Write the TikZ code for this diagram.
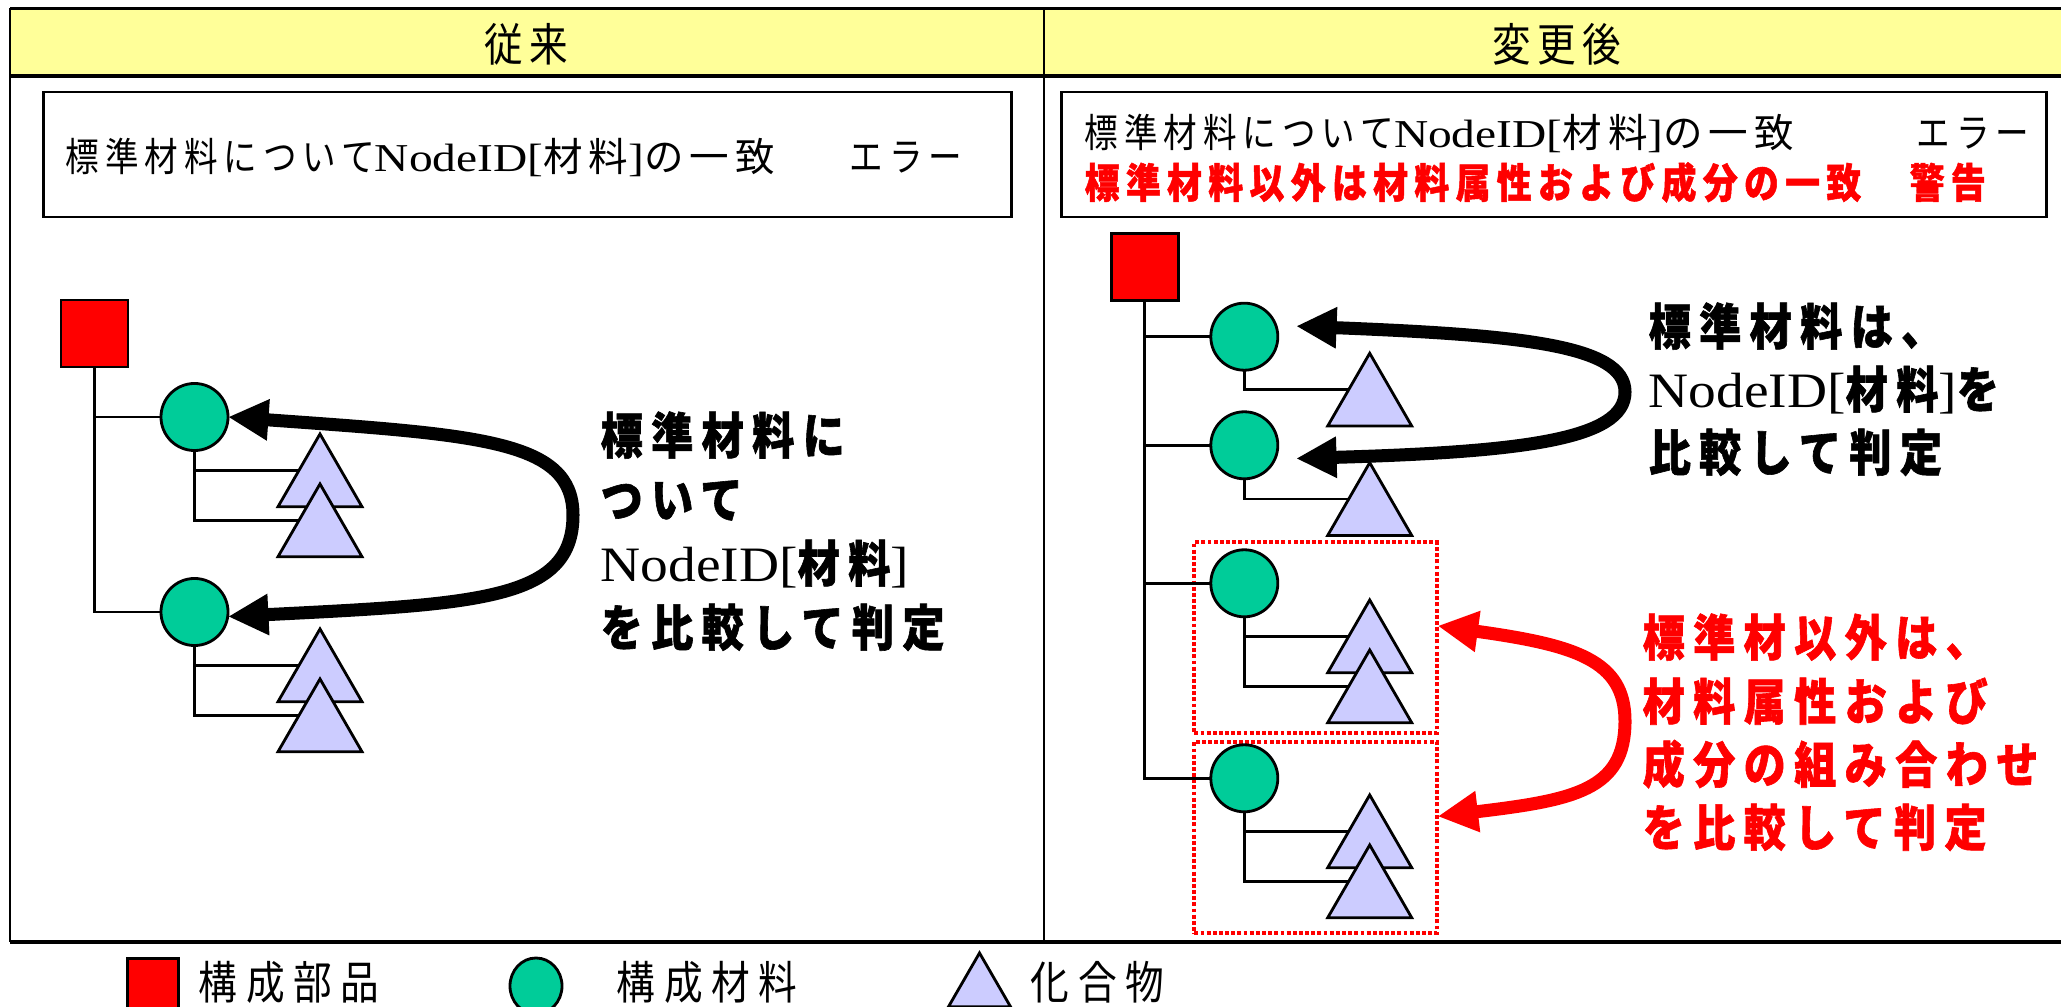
\documentclass[tikz,border=0pt]{standalone}
\usepackage{fontspec}
\setmainfont{Liberation Serif}
\newfontfamily\jp{Noto Sans CJK JP}[FakeStretch=0.85, LetterSpace=12, BoldFeatures={FakeBold=1.2}]
\newfontfamily\jpw{Noto Sans CJK JP}[LetterSpace=15]
\newfontfamily\lat{Liberation Serif}[FakeStretch=1.12]
\newfontfamily\latw{Liberation Serif}[FakeStretch=1.2]
\usetikzlibrary{arrows.meta, shapes.geometric}
\newcommand\fsz[1]{\fontsize{#1}{#1}\selectfont}
\newcommand\lsp[1]{\addfontfeature{LetterSpace=#1}}
\definecolor{hdrY}{HTML}{FFFF99}
\definecolor{grn}{HTML}{00CC99}
\definecolor{lav}{HTML}{CCCCFF}
\begin{document}
\begin{tikzpicture}[x=0.01cm,y=-0.01cm,
  link/.style={line width=0.7pt},
  partsq/.style={draw, line width=0.8pt, fill=red, minimum size=0.67cm, inner sep=0pt, outer sep=0pt},
  matcirc/.style={draw, circle, line width=0.8pt, fill=grn, minimum size=0.67cm, inner sep=0pt, outer sep=0pt},
  cmptri/.style={draw, regular polygon, regular polygon sides=3, line width=0.8pt, fill=lav, minimum size=0.97cm, inner sep=0pt, outer sep=0pt},
  dotbox/.style={draw=red, line width=1.1pt, dash pattern=on 1.1pt off 0.65pt, minimum width=2.421cm, inner sep=0pt, outer sep=0pt},
  textframe/.style={draw, line width=0.8pt, inner sep=0pt, outer sep=0pt, minimum height=1.25cm},
  bigarrow/.style={line width=3.7pt, {Triangle[length=11.5pt,width=11pt]}-{Triangle[length=11.5pt,width=11pt]}},
  hdrtxt/.style={anchor=base, inner sep=0pt, font=\jp\fsz{12.9pt}\lsp{14}},
  boxtxt/.style={anchor=base west, inner sep=0pt, font=\jp\fsz{11.24pt}\lsp{15}},
  warntxt/.style={anchor=base west, inner sep=0pt, text=red, font=\jp\bfseries\fsz{11.66pt}\lsp{15.5}},
  callblk/.style={anchor=base west, inner sep=0pt, font=\jp\bfseries\fsz{14.08pt}\lsp{17}},
  callred/.style={callblk, text=red},
  legtxt/.style={anchor=base west, inner sep=0pt, font=\jp\fsz{12.94pt}\lsp{19}}
]
\useasboundingbox (0,0) rectangle (2061,1007);
\clip (0,0) rectangle (2061,1007);
% frame
\fill[hdrY] (10,8.5) rectangle (2068,76);
\draw[line width=1pt] (10,8.5) -- (2068,8.5);
\draw[line width=1pt] (10,76) -- (2068,76);
\draw[line width=0.7pt] (10,8.5) -- (10,942);
\draw[line width=0.9pt] (10,942) -- (2068,942);
\draw[line width=0.7pt] (1044,8.5) -- (1044,942);
\node[hdrtxt] (hL) at (526,62) {従来};
\node[hdrtxt] (hR) at (1557,62) {変更後};
% top text boxes
\node[textframe, minimum width=9.675cm] (boxL) at (527.25,154.5) {};
\node[boxtxt] (tL) at (65,172) {標準材料について{\latw NodeID[}{\jpw 材料{\latw ]}の一致}};
\node[boxtxt] (eL) at (849,172) {エラー};
\node[textframe, minimum width=9.845cm] (boxR) at (1553.75,154.5) {};
\node[boxtxt] (tR) at (1084,147.5) {標準材料について{\latw NodeID[}{\jpw 材料{\latw ]}の一致}};
\node[boxtxt] (eR) at (1916,147.5) {エラー};
\node[warntxt] (wR) at (1084,198) {標準材料以外は材料属性および成分の一致};
\node[warntxt] (kR) at (1909,198) {警告};
% ---------- left tree
\node[partsq] (sqL) at (94.5,333.5) {};
\node[matcirc] (c1L) at (194.5,417) {};
\node[matcirc] (c2L) at (194.5,612) {};
\draw[link] (sqL.south) |- (c1L.west);
\draw[link] (sqL.south) |- (c2L.west);
\node[cmptri] (t1aL) at (320,482.5) {};
\node[cmptri] (t1bL) at (320,532.5) {};
\node[cmptri] (t2aL) at (320,677.5) {};
\node[cmptri] (t2bL) at (320,727.5) {};
\draw[link] (c1L.south) |- (t1aL.side 1);
\draw[link] (c1L.south) |- (t1bL.side 1);
\draw[link] (c2L.south) |- (t2aL.side 1);
\draw[link] (c2L.south) |- (t2bL.side 1);
\draw[bigarrow] (c1L.east) .. controls (480,435) and (573,440) .. (573,515)
   .. controls (573,600) and (480,604) .. ([yshift=-1.3pt]c2L.east);
\node[callblk] (cL1) at (600,454) {標準材料に};
\node[callblk] (cL2) at (600,518) {ついて};
\node[callblk] (cL3) at (600,582) {{\lat\mdseries NodeID[}材料{\lat\mdseries ]}};
\node[callblk] (cL4) at (600,646) {を比較して判定};
% ---------- right tree
\node[dotbox, minimum height=1.91cm] (b1) at (1315.45,637.8) {};
\node[dotbox, minimum height=1.916cm] (b2) at (1315.45,837.5) {};
\node[partsq] (sqR) at (1144.7,267) {};
\node[matcirc] (c1R) at (1244.3,336.7) {};
\node[matcirc] (c2R) at (1244.3,445.3) {};
\node[matcirc] (c3R) at (1244.3,583.3) {};
\node[matcirc] (c4R) at (1244.3,778.3) {};
\draw[link] (sqR.south) |- (c1R.west);
\draw[link] (sqR.south) |- (c2R.west);
\draw[link] (sqR.south) |- (c3R.west);
\draw[link] (sqR.south) |- (c4R.west);
\node[cmptri] (t1R) at (1369.7,401.8) {};
\node[cmptri] (t2R) at (1369.7,511.2) {};
\node[cmptri] (t3aR) at (1369.7,648.5) {};
\node[cmptri] (t3bR) at (1369.7,698.5) {};
\node[cmptri] (t4aR) at (1369.7,843.5) {};
\node[cmptri] (t4bR) at (1369.7,893.5) {};
\draw[link] (c1R.south) |- (t1R.side 1);
\draw[link] (c2R.south) |- (t2R.side 1);
\draw[link] (c3R.south) |- (t3aR.side 1);
\draw[link] (c3R.south) |- (t3bR.side 1);
\draw[link] (c4R.south) |- (t4aR.side 1);
\draw[link] (c4R.south) |- (t4bR.side 1);
\draw[bigarrow] ([xshift=5.2pt,yshift=3pt]c1R.east) .. controls (1520,335) and (1625,345) .. (1625,392)
   .. controls (1625,440) and (1520,452) .. ([xshift=5.2pt,yshift=-3.75pt]c2R.east);
\draw[bigarrow, red] ([xshift=0.3pt,yshift=3.4pt]b1.east) .. controls (1575,645) and (1625,660) .. (1625,721)
   .. controls (1625,790) and (1575,800) .. ([xshift=0.3pt,yshift=6pt]b2.east);
\node[callblk] (cR1) at (1648,345) {標準材料は、};
\node[callblk] (cR2) at (1648,408) {{\lat\mdseries NodeID[}材料{\lat\mdseries ]}を};
\node[callblk] (cR3) at (1648,471) {比較して判定};
\node[callred] (rR1) at (1642,656) {標準材以外は、};
\node[callred] (rR2) at (1642,720) {材料属性および};
\node[callred] (rR3) at (1642,783) {成分の組み合わせ};
\node[callred] (rR4) at (1642,846) {を比較して判定};
% ---------- legend
\node[partsq, minimum size=0.51cm] (lgsq) at (153,984) {};
\node[legtxt] (lg1) at (198,999) {構成部品};
\node[matcirc, ellipse, minimum width=0.52cm, minimum height=0.56cm] (lgc) at (536,986) {};
\node[legtxt] (lg2) at (616,999) {構成材料};
\node[cmptri, minimum size=0.716cm] (lgt) at (979.5,988.8) {};
\node[legtxt] (lg3) at (1030,999) {化合物};
\end{tikzpicture}
\end{document}
